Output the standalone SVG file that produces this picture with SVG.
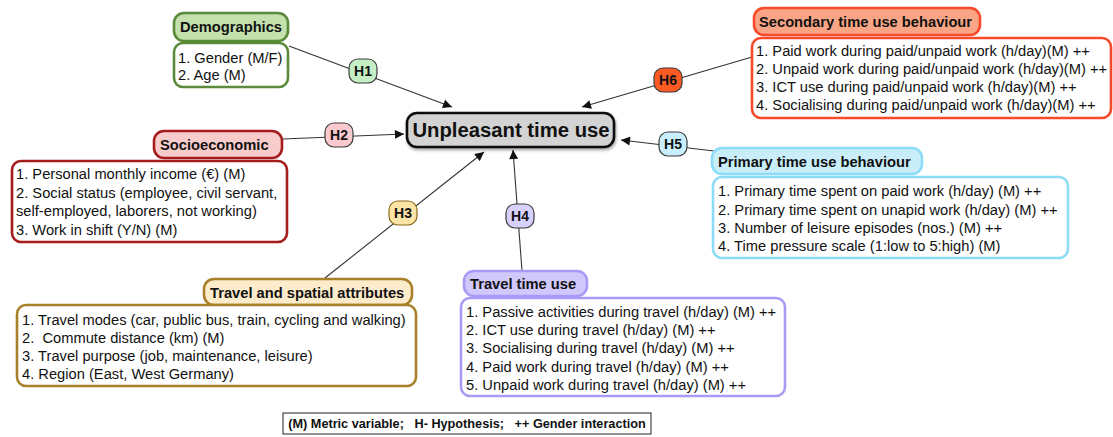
<svg xmlns="http://www.w3.org/2000/svg" width="1113" height="437" viewBox="0 0 1113 437">
<style>
text{font-family:"Liberation Sans",Arial,Helvetica,sans-serif;fill:#111}
.b{font-size:14.7px}
.h{font-size:14.7px;font-weight:bold}
.hl{font-size:14px;font-weight:bold;text-anchor:middle}
.box{fill:#fff;stroke-width:2.6}
.hb{stroke-width:2.6}
.ln{stroke:#333;stroke-width:1.1;fill:none}
</style>
<defs>
<marker id="ar" viewBox="0 0 10 10" refX="10" refY="5" markerWidth="11" markerHeight="9" markerUnits="userSpaceOnUse" orient="auto">
<path d="M0,0 L10,5 L0,10 z" fill="#111"/>
</marker>
<filter id="sh" x="-10%" y="-30%" width="120%" height="170%">
<feDropShadow dx="1" dy="2" stdDeviation="1.5" flood-color="#000" flood-opacity="0.35"/>
</filter>
</defs>

<g id="connectors">
<line class="ln" x1="289" y1="46" x2="452" y2="107" marker-end="url(#ar)"/>
<line class="ln" x1="283" y1="139" x2="404" y2="134" marker-end="url(#ar)"/>
<line class="ln" x1="325" y1="278" x2="484" y2="152" marker-end="url(#ar)"/>
<line class="ln" x1="522" y1="271" x2="513" y2="150" marker-end="url(#ar)"/>
<line class="ln" x1="714" y1="151" x2="621" y2="140" marker-end="url(#ar)"/>
<line class="ln" x1="752" y1="57" x2="582" y2="107" marker-end="url(#ar)"/>
</g>

<g id="hypotheses">
<g id="h1"><rect x="349" y="59" width="28" height="24" rx="9" fill="#c4efc4" stroke="#3b3b3b" stroke-width="1.2"/><text class="hl" x="363" y="76">H1</text></g>
<g id="h2"><rect x="325" y="123" width="28" height="24" rx="9" fill="#f9c9cd" stroke="#3b3b3b" stroke-width="1.2"/><text class="hl" x="339" y="140">H2</text></g>
<g id="h3"><rect x="389" y="201" width="28" height="24" rx="9" fill="#fbe4a6" stroke="#8a6a1a" stroke-width="1.2"/><text class="hl" x="403" y="218">H3</text></g>
<g id="h4"><rect x="506" y="204" width="28" height="24" rx="9" fill="#d7d0fb" stroke="#3b3b3b" stroke-width="1.2"/><text class="hl" x="520" y="221">H4</text></g>
<g id="h5"><rect x="659" y="132" width="28" height="24" rx="9" fill="#c8effc" stroke="#3b3b3b" stroke-width="1.2"/><text class="hl" x="673" y="149">H5</text></g>
<g id="h6"><rect x="654" y="68" width="28" height="24" rx="9" fill="#fb5a22" stroke="#3b3b3b" stroke-width="1.2"/><text class="hl" x="668" y="85">H6</text></g>
</g>

<g id="center">
<rect x="407" y="113" width="207" height="34" rx="10" fill="#d3d3d3" stroke="#111" stroke-width="2.6" filter="url(#sh)"/>
<text x="511" y="137" text-anchor="middle" style="font-size:20.3px;font-weight:bold">Unpleasant time use</text>
</g>

<g id="demographics">
<rect class="hb" x="174" y="13" width="114" height="28" rx="10" fill="#c3e0ad" stroke="#5a8a3a"/>
<text class="h" x="180" y="32">Demographics</text>
<rect class="box" x="174" y="43" width="114" height="44" rx="9" stroke="#5a8a3a"/>
<text class="b" x="178" y="63">1. Gender (M/F)</text>
<text class="b" x="178" y="80">2. Age (M)</text>
</g>

<g id="secondary">
<rect class="hb" x="754" y="8" width="226" height="27" rx="10" fill="#f9a585" stroke="#f8492b"/>
<text class="h" x="759" y="27">Secondary time use behaviour</text>
<rect class="box" x="752" y="38" width="359" height="80" rx="9" stroke="#f8492b"/>
<text class="b" x="756" y="56">1. Paid work during paid/unpaid work (h/day)(M) ++</text>
<text class="b" x="756" y="74">2. Unpaid work during paid/unpaid work (h/day)(M) ++</text>
<text class="b" x="756" y="92">3. ICT use during paid/unpaid work (h/day)(M) ++</text>
<text class="b" x="756" y="110">4. Socialising during paid/unpaid work (h/day)(M) ++</text>
</g>

<g id="socioeconomic">
<rect class="hb" x="154" y="131" width="128" height="27" rx="10" fill="#f9cccc" stroke="#a51c1c"/>
<text class="h" x="160" y="150">Socioeconomic</text>
<rect class="box" x="12" y="161" width="275" height="81" rx="9" stroke="#a51c1c"/>
<text class="b" x="16" y="179">1. Personal monthly income (€) (M)</text>
<text class="b" x="16" y="198">2. Social status (employee, civil servant,</text>
<text class="b" x="16" y="216">self-employed, laborers, not working)</text>
<text class="b" x="16" y="235">3. Work in shift (Y/N) (M)</text>
</g>

<g id="primary">
<rect class="hb" x="712" y="148" width="210" height="26" rx="10" fill="#c9eef9" stroke="#8ddcf7"/>
<text class="h" x="718" y="167">Primary time use behaviour</text>
<rect class="box" x="713" y="177" width="355" height="81" rx="9" stroke="#8ddcf7"/>
<text class="b" x="718" y="196">1. Primary time spent on paid work (h/day) (M) ++</text>
<text class="b" x="718" y="215">2. Primary time spent on unapid work (h/day) (M) ++</text>
<text class="b" x="718" y="233">3. Number of leisure episodes (nos.) (M) ++</text>
<text class="b" x="718" y="251">4. Time pressure scale (1:low to 5:high) (M)</text>
</g>

<g id="travel-spatial">
<rect class="hb" x="204" y="279" width="208" height="26" rx="10" fill="#fdeccb" stroke="#a8802a"/>
<text class="h" x="210" y="298">Travel and spatial attributes</text>
<rect class="box" x="17" y="305" width="399" height="81" rx="9" stroke="#a8802a"/>
<text class="b" x="22" y="325">1. Travel modes (car, public bus, train, cycling and walking)</text>
<text class="b" x="22" y="343" xml:space="preserve">2.  Commute distance (km) (M)</text>
<text class="b" x="22" y="361">3. Travel purpose (job, maintenance, leisure)</text>
<text class="b" x="22" y="379">4. Region (East, West Germany)</text>
</g>

<g id="travel-time">
<rect class="hb" x="464" y="271" width="123" height="25" rx="10" fill="#d0c8fb" stroke="#a99af5"/>
<text class="h" x="470" y="289">Travel time use</text>
<rect class="box" x="461" y="298" width="324" height="98" rx="9" stroke="#a99af5"/>
<text class="b" x="466" y="317">1. Passive activities during travel (h/day) (M) ++</text>
<text class="b" x="466" y="335">2. ICT use during travel (h/day) (M) ++</text>
<text class="b" x="466" y="353">3. Socialising during travel (h/day) (M) ++</text>
<text class="b" x="466" y="372">4. Paid work during travel (h/day) (M) ++</text>
<text class="b" x="466" y="390">5. Unpaid work during travel (h/day) (M) ++</text>
</g>

<g id="legend">
<rect x="283" y="413" width="368" height="21" fill="#fff" stroke="#222" stroke-width="1"/>
<text x="467" y="428" text-anchor="middle" xml:space="preserve" style="font-size:12.7px;font-weight:bold">(M) Metric variable;   H- Hypothesis;   ++ Gender interaction</text>
</g>
</svg>
